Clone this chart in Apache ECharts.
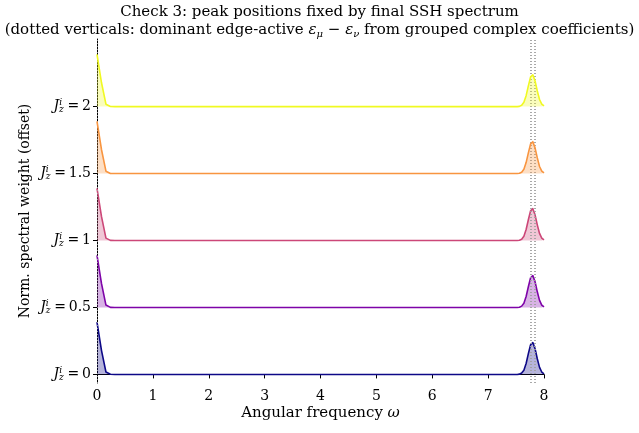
<!DOCTYPE html>
<html>
<head>
<meta charset="utf-8">
<script src="https://cdn.jsdelivr.net/npm/echarts@6/dist/echarts.min.js"></script>
<style>
  html, body { margin: 0; padding: 0; background: #fff; }
  #main { width: 639px; height: 433px; }
</style>
</head>
<body>
<div id="main"></div>
<script>
// offsets of each J_z^i trace (also the y tick values)
var offsets = [0, 0.5, 1, 1.5, 2];
var colors = ['#0d0887', '#7e03a8', '#cc4778', '#f89540', '#f0f921'];

// spectrum shape (same for every trace)
var shapeX = [0, 0.08, 0.16, 0.24, 0.32, 7.52, 7.56, 7.60, 7.64, 7.68, 7.72, 7.76, 7.80, 7.84, 7.88, 7.92, 7.96, 8.00];
var shapeY = [0.39, 0.18, 0.018, 0.001, 0, 0, 0.002, 0.010, 0.032, 0.082, 0.155, 0.222, 0.238, 0.192, 0.117, 0.053, 0.018, 0.005];

// dotted verticals: dominant edge-active transitions
var transitions = [0, 7.75, 7.78, 7.82, 7.85];

var xTicks = [0, 1, 2, 3, 4, 5, 6, 7, 8];

var chart = echarts.init(document.getElementById('main'));
var font = 'DejaVu Serif';

var series = offsets.map(function (off, k) {
    return {
        type: 'line',
        data: shapeX.map(function (x, i) { return [x, shapeY[i] + off]; }),
        showSymbol: false,
        symbol: 'none',
        lineStyle: { color: colors[k], width: 1.6, join: 'round' },
        itemStyle: { color: colors[k] },
        areaStyle: { color: colors[k], opacity: 0.3, origin: off },
        z: 2 + k,
        animation: false
    };
});

series.push({
    type: 'line',
    data: [],
    markLine: {
        silent: true,
        symbol: 'none',
        label: { show: false },
        lineStyle: { color: '#a0a0a0', type: [1, 2], width: 1, opacity: 0.9 },
        data: transitions.map(function (t) { return { xAxis: t }; })
    },
    z: 10,
    animation: false
});

var option = {
    animation: false,
    title: {
        text: 'Check 3: peak positions fixed by final SSH spectrum\n(dotted verticals: dominant edge-active {it|ε}{sub|μ} − {it|ε}{sub|ν} from grouped complex coefficients)',
        left: 'center',
        top: -2,
        textStyle: {
            fontFamily: font,
            fontSize: 15,
            fontWeight: 'normal',
            color: '#000',
            lineHeight: 18,
            rich: {
                it: { fontFamily: font, fontStyle: 'italic', fontSize: 15, color: '#000' },
                sub: { fontFamily: font, fontStyle: 'italic', fontSize: 10, color: '#000', verticalAlign: 'bottom', padding: [5, 0, 0, 0] }
            }
        }
    },
    grid: { left: 97, right: 95, top: 39, bottom: 50 },
    xAxis: {
        type: 'value',
        min: 0,
        max: 8,
        interval: 1,
        name: 'Angular frequency {w|ω}',
        nameLocation: 'middle',
        nameGap: 23,
        nameMoveOverlap: false,
        nameTextStyle: {
            fontFamily: font, fontSize: 15, color: '#000',
            rich: { w: { fontFamily: font, fontStyle: 'italic', fontSize: 15, color: '#000' } }
        },
        axisLine: { show: true, lineStyle: { color: '#000', width: 1 } },
        axisTick: { show: true, inside: false, length: 4, lineStyle: { color: '#000' } },
        axisLabel: {
            fontFamily: font, fontSize: 14, color: '#000', margin: 6,
            formatter: function (v) { return xTicks.indexOf(v) >= 0 ? String(v) : ''; }
        },
        splitLine: { show: false }
    },
    yAxis: {
        type: 'value',
        min: -0.064,
        max: 2.505,
        name: 'Norm. spectral weight (offset)',
        nameLocation: 'middle',
        nameGap: 65,
        nameMoveOverlap: false,
        nameRotate: 90,
        nameTextStyle: { fontFamily: font, fontSize: 14, color: '#000' },
        axisLine: { show: true, onZero: false, lineStyle: { color: '#000', width: 1 } },
        axisTick: { show: true, length: 4, lineStyle: { color: '#000' }, customValues: offsets },
        axisLabel: {
            fontFamily: font, fontSize: 14, color: '#000', margin: 6,
            customValues: offsets,
            formatter: function (v) { return '{J|J}{sup|i}{sub|z}{eq|\u2009=\u2009' + v + '}'; },
            rich: {
                J: { fontFamily: font, fontStyle: 'italic', fontSize: 14, color: '#000' },
                sup: { fontFamily: font, fontStyle: 'italic', fontSize: 9, color: '#000', verticalAlign: 'top', padding: [0, 0, 7, 0] },
                sub: { fontFamily: font, fontStyle: 'italic', fontSize: 9, color: '#000', verticalAlign: 'bottom', padding: [6, 1, 0, -3] },
                eq: { fontFamily: font, fontSize: 14, color: '#000' }
            }
        },
        splitLine: { show: false }
    },
    series: series
};

chart.setOption(option);
</script>
</body>
</html>
